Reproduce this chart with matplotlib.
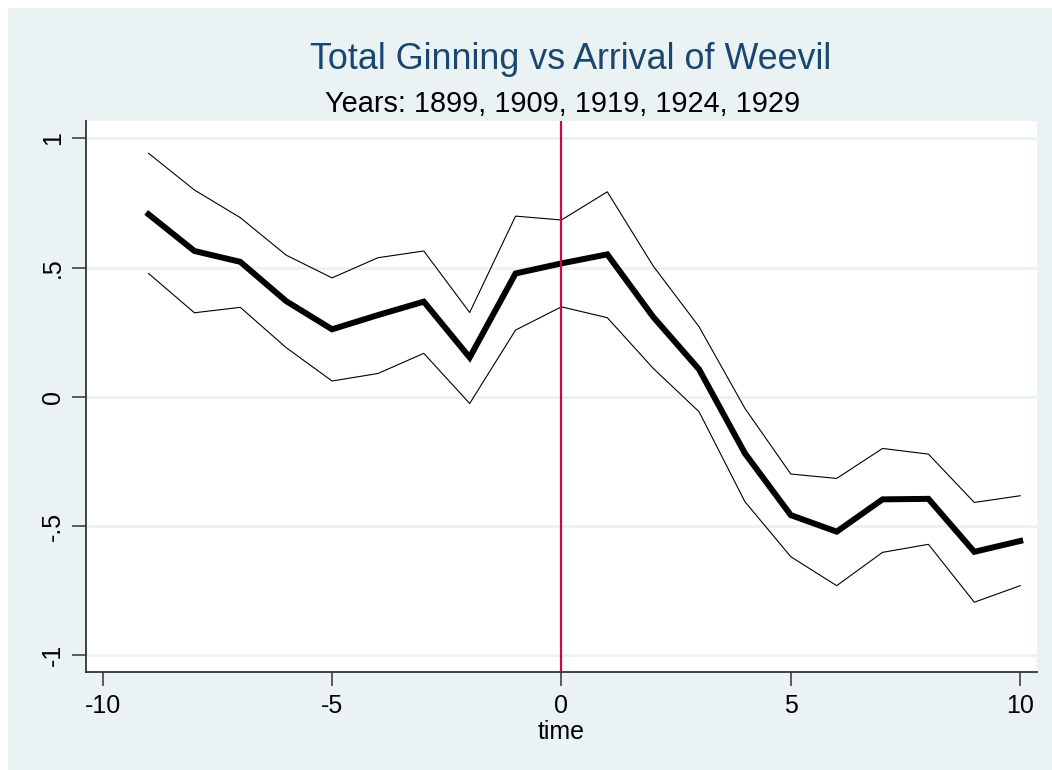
"""Event-study plot: total ginning around the arrival of the boll weevil."""

import matplotlib

matplotlib.use("Agg")
import matplotlib.pyplot as plt
from matplotlib.patches import Rectangle

plt.rcParams["font.family"] = ["Liberation Sans", "DejaVu Sans"]

# years relative to weevil arrival
time = [-9, -8, -7, -6, -5, -4, -3, -2, -1, 0, 1, 2, 3, 4, 5, 6, 7, 8, 9, 10]
coef = [0.706, 0.564, 0.522, 0.370, 0.261, 0.316, 0.368, 0.152, 0.477, 0.516,
        0.551, 0.309, 0.106, -0.219, -0.458, -0.522, -0.397, -0.395, -0.600, -0.558]
upper = [0.942, 0.800, 0.693, 0.548, 0.460, 0.538, 0.564, 0.326, 0.699, 0.684,
         0.793, 0.506, 0.271, -0.045, -0.299, -0.316, -0.200, -0.222, -0.409, -0.383]
lower = [0.477, 0.325, 0.346, 0.190, 0.061, 0.090, 0.168, -0.026, 0.258, 0.348,
         0.306, 0.110, -0.058, -0.406, -0.619, -0.731, -0.602, -0.571, -0.795, -0.731]

xticks = [-10, -5, 0, 5, 10]
yticks = [-1, -0.5, 0, 0.5, 1]
ylabels = ["-1", "-.5", "0", ".5", "1"]

BG = "#EAF2F3"
NAVY = "#1A476F"

fig = plt.figure(figsize=(10.52, 7.70), dpi=100, facecolor="white")
# graph region: light bluish-gray, small white margin top and left
fig.patches.append(Rectangle((8 / 1052, -0.05), 1.1, 1.05 - 8 / 770,
                             transform=fig.transFigure, facecolor=BG,
                             edgecolor="none", zorder=-10))

ax = fig.add_axes([85.7 / 1052, 98 / 770, 951 / 1052, 551 / 770])
ax.set_facecolor("white")

ax.plot(time, upper, color="black", lw=0.8, zorder=3)
ax.plot(time, lower, color="black", lw=0.8, zorder=3)
ax.plot(time, coef, color="black", lw=4.3, zorder=4, solid_joinstyle="miter")
ax.axvline(0, color="#CC0A3E", lw=1.6, zorder=5)

ax.set_xlim(-10.37, 10.36)
ax.set_ylim(-1.065, 1.067)
ax.set_xticks(xticks)
ax.set_xticklabels([str(t) for t in xticks])
ax.set_yticks(yticks)
ax.set_yticklabels(ylabels, rotation=90, va="center")

ax.grid(axis="y", color=BG, lw=2)
ax.set_axisbelow(True)
for side in ["top", "right"]:
    ax.spines[side].set_visible(False)
for side in ["left", "bottom"]:
    ax.spines[side].set_color("#333333")
    ax.spines[side].set_linewidth(1.3)
ax.tick_params(length=10, width=1.1, color="#333333", labelsize=18)
ax.tick_params(axis="x", pad=6)
ax.tick_params(axis="y", pad=5)

ax.set_xlabel("time", fontsize=18, labelpad=1)

fig.text(0.542, 1 - 69 / 770, "Total Ginning vs Arrival of Weevil",
         ha="center", va="baseline", fontsize=25.8, color=NAVY)
fig.text(0.535, 1 - 112.5 / 770, "Years: 1899, 1909, 1919, 1924, 1929",
         ha="center", va="baseline", fontsize=20.8, color="black")

fig.savefig("out.png", dpi=100, facecolor=fig.get_facecolor())
